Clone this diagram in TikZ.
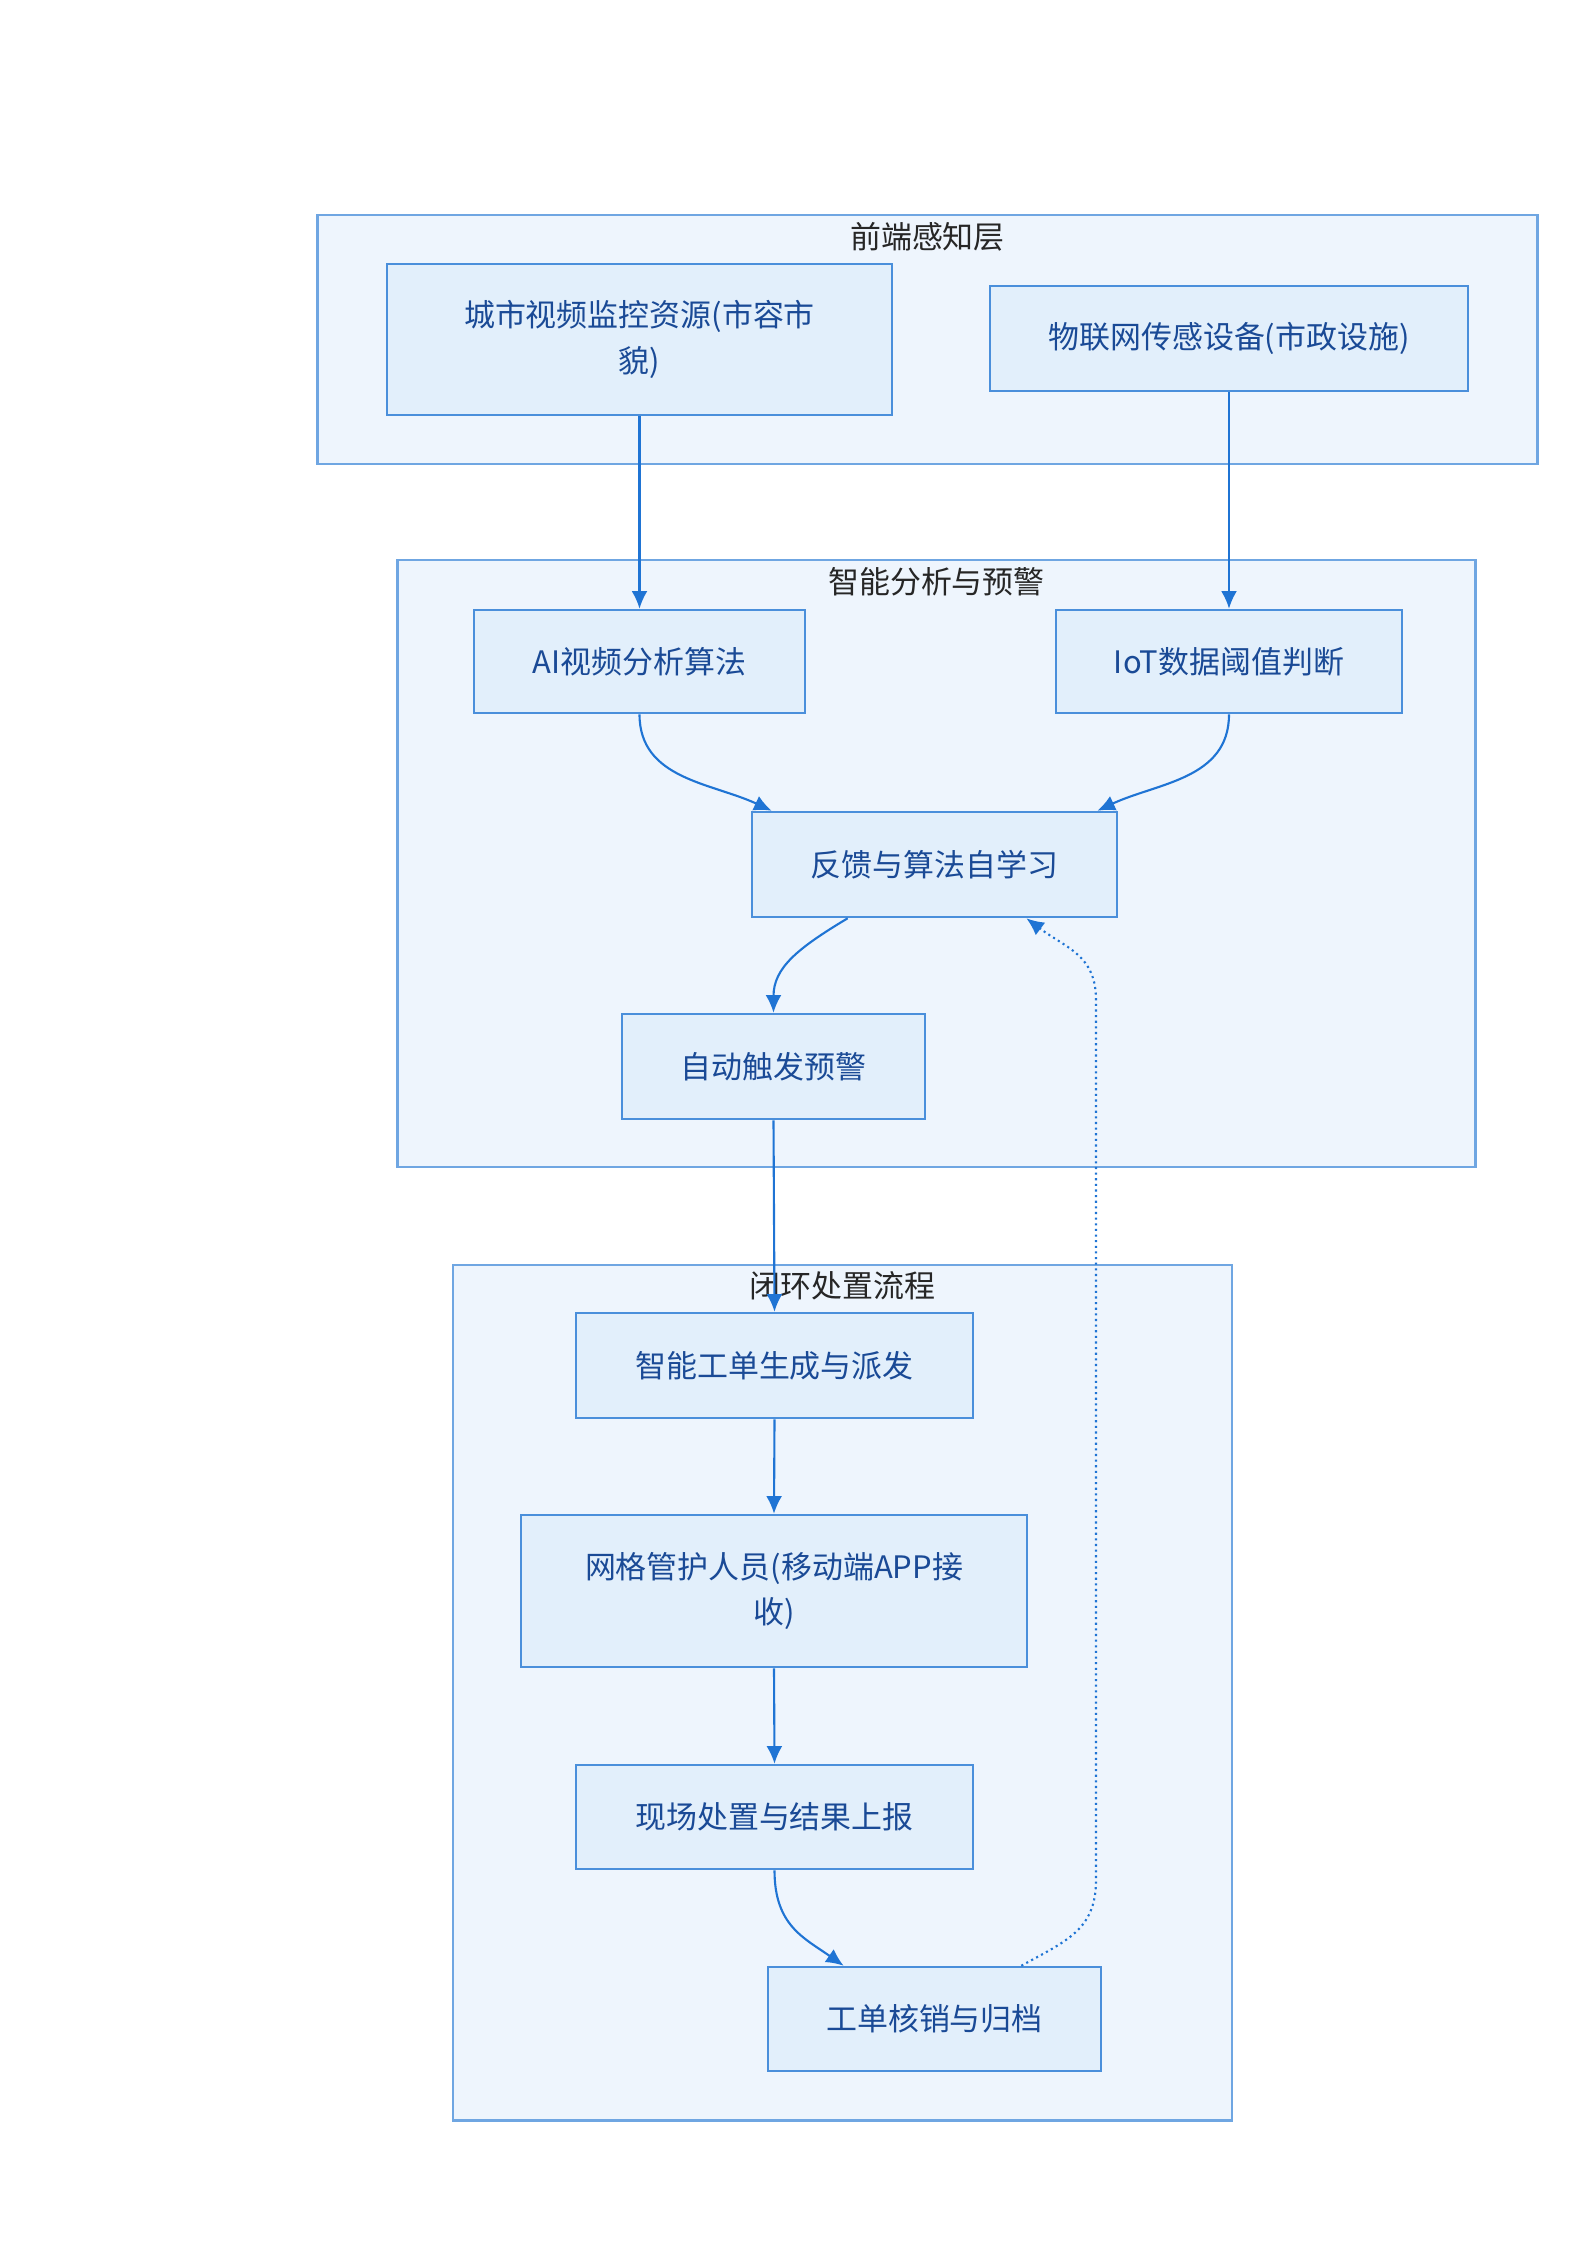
\documentclass[tikz,border=0pt]{standalone}
\usepackage{fontspec}
\setmainfont{Noto Sans CJK SC}
\usepackage{tikz}
\usetikzlibrary{arrows.meta}
\usetikzlibrary{calc}
\usepackage{xcolor}
\definecolor{layerfill}{HTML}{EEF5FD}
\definecolor{layerline}{HTML}{6FA6E2}
\definecolor{boxfill}{HTML}{E2EFFB}
\definecolor{boxline}{HTML}{4A8FDB}
\definecolor{boxtext}{HTML}{1A4A96}
\definecolor{flowline}{HTML}{1F74D4}

\begin{document}
\begin{tikzpicture}[x = 0.01cm, y = -0.01cm,
    layer/.style = {draw = layerline, fill = layerfill, line width = 0.7pt, inner sep = 0pt},
    layertitle/.style = {anchor = north, inner sep = 0pt, text = black!85, font = \fontsize{8.8}{11}\selectfont},
    proc/.style = {draw = boxline, fill = boxfill, line width = 0.7pt, align = center, text = boxtext, font = \fontsize{8.8}{13}\selectfont, inner sep = 0pt},
    flow/.style = {draw = flowline, line width = 0.6pt, -{Latex[length = 5pt, width = 4.5pt]}},
    back/.style = {flow, densely dotted}]

    \useasboundingbox (0,0) rectangle (1587,2245);

    % layers
    \node[layer, minimum width = 12.19cm, minimum height = 2.49cm] (sense) at (927.5,339.5) {};
    \node[layertitle] (senseT) at ($(sense.north)+(0,8)$) {前端感知层};

    \node[layer, minimum width = 10.77cm, minimum height = 6.07cm] (analyse) at (936.5,863.5) {};
    \node[layertitle] (analyseT) at ($(analyse.north)+(0,8)$) {智能分析与预警};

    \node[layer, minimum width = 7.79cm, minimum height = 8.55cm] (handle) at (842.5,1692.5) {};
    \node[layertitle] (handleT) at ($(handle.north)+(0,7)$) {闭环处置流程};

    % boxes
    \node[proc, minimum width = 5.05cm, minimum height = 1.51cm] (video) at (639.5,339.5) {城市视频监控资源(市容市\\貌)};
    \node[proc, minimum width = 4.78cm, minimum height = 1.05cm] (iot) at (1229,338.5) {物联网传感设备(市政设施)};

    \node[proc, minimum width = 3.31cm, minimum height = 1.03cm] (ai) at (639.5,661.5) {AI视频分析算法};
    \node[proc, minimum width = 3.46cm, minimum height = 1.03cm] (judge) at (1229,661.5) {IoT数据阈值判断};
    \node[proc, minimum width = 3.65cm, minimum height = 1.05cm] (learn) at (934.5,864.5) {反馈与算法自学习};
    \node[proc, minimum width = 3.03cm, minimum height = 1.05cm] (alarm) at (773.5,1066.5) {自动触发预警};

    \node[proc, minimum width = 3.97cm, minimum height = 1.05cm] (order) at (774.5,1365.5) {智能工单生成与派发};
    \node[proc, minimum width = 5.06cm, minimum height = 1.52cm] (staff) at (774,1591) {网格管护人员(移动端APP接\\收)};
    \node[proc, minimum width = 3.97cm, minimum height = 1.04cm] (report) at (774.5,1817) {现场处置与结果上报};
    \node[proc, minimum width = 3.33cm, minimum height = 1.04cm] (close) at (934.5,2019) {工单核销与归档};

    % ends of the bent lines
    \coordinate (learnInL) at ($(learn.north west)+(21,0)$);
    \coordinate (learnInR) at ($(learn.north east)+(-21,0)$);
    \coordinate (learnOut) at ($(learn.south west)+(97,0)$);
    \coordinate (learnBack) at ($(learn.south east)+(-92,0)$);
    \coordinate (closeIn) at ($(close.north west)+(77,0)$);
    \coordinate (closeOut) at ($(close.north east)+(-81,0)$);
    \coordinate (backLow) at (1096,1880);
    \coordinate (backHigh) at (1096,1000);

    % connectors
    \draw[flow] (video.south) -- (ai.north);
    \draw[flow] (iot.south) -- (judge.north);
    \draw[flow] (ai.south) .. controls +(0,65) and +(-60,-28) .. (learnInL);
    \draw[flow] (judge.south) .. controls +(0,65) and +(60,-28) .. (learnInR);
    \draw[flow] (learnOut) .. controls +(-50,30) and +(0,-45) .. (alarm.north);
    \draw[flow] (alarm.south) -- (order.north);
    \draw[flow] (order.south) -- (staff.north);
    \draw[flow] (staff.south) -- (report.north);
    \draw[flow] (report.south) .. controls +(0,55) and +(-40,-28) .. (closeIn);
    \draw[back] (closeOut) .. controls +(45,-25) and +(0,50) .. (backLow) -- (backHigh) .. controls +(0,-45) and +(40,30) .. (learnBack);

\end{tikzpicture}
\end{document}
